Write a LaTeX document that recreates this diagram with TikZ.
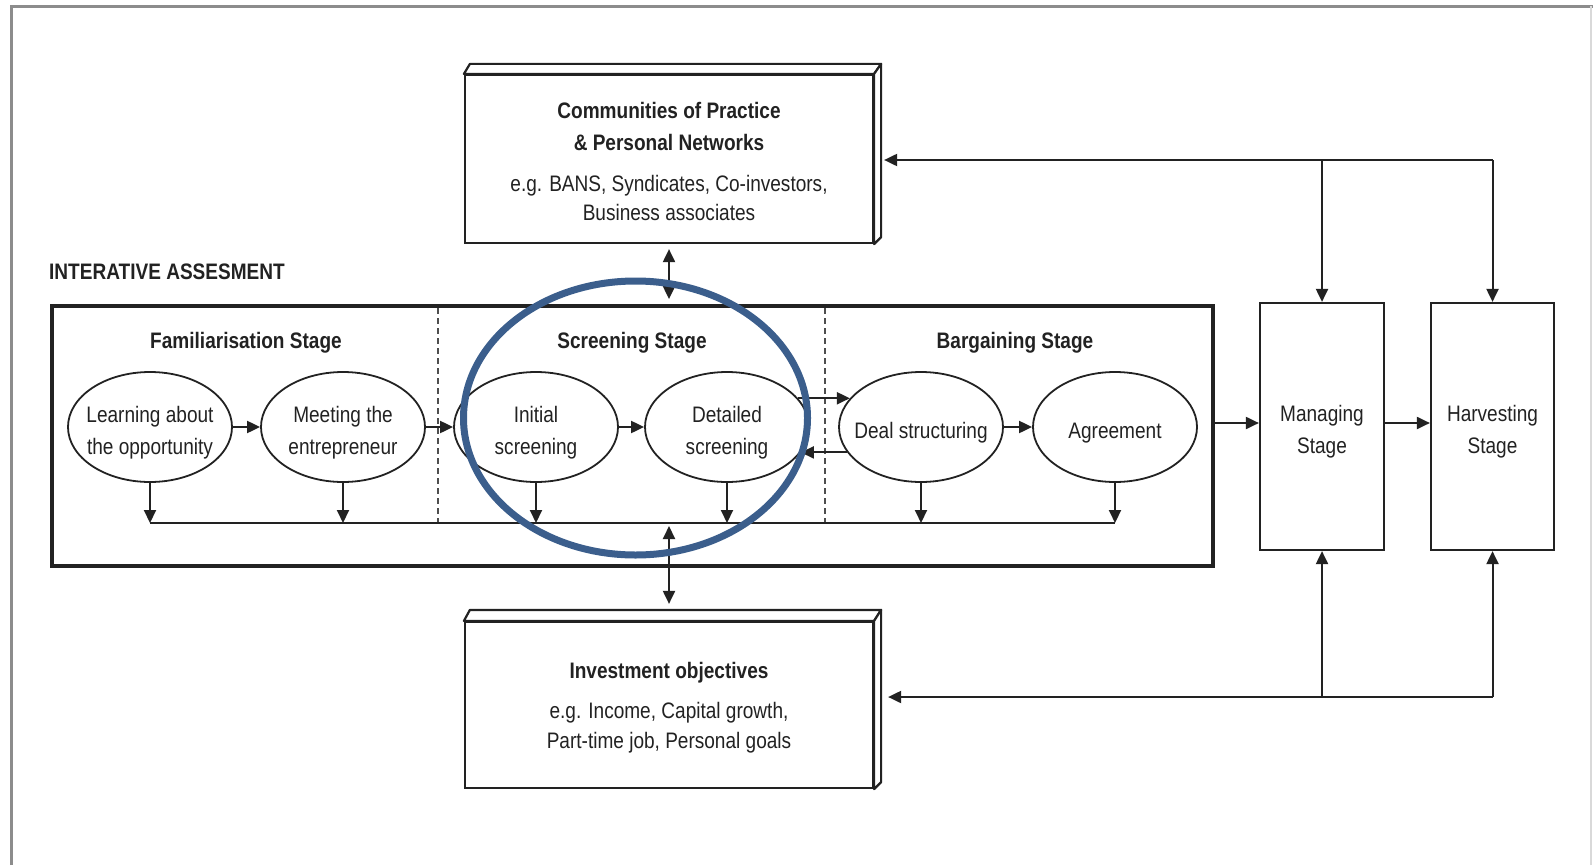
\documentclass[tikz,border=0pt]{standalone}
\usepackage{fontspec}
\setmainfont[FakeStretch=0.85]{Liberation Sans}
\usetikzlibrary{arrows.meta,shapes.geometric,calc}
\definecolor{ink}{HTML}{222222}
\definecolor{ringblue}{HTML}{3B5E8C}
\definecolor{framegray}{HTML}{8C8C8C}
\definecolor{edgegray}{HTML}{D9D9D9}
% taller first line, so the text block sits a little lower in its shape
\newcommand{\txtdrop}{\rule{0pt}{27bp}}
\newcommand{\boxdrop}{\rule{0pt}{21bp}}

\begin{document}
\begin{tikzpicture}[x=1bp,y=-1bp,
  every node/.style={font=\fontsize{22.4bp}{32bp}\selectfont, text=ink},
  title/.style={font=\fontsize{22.4bp}{32bp}\selectfont\bfseries, inner sep=0pt},
  stage/.style={draw=ink, line width=1.8bp, ellipse, minimum width=164bp,
    minimum height=110bp, inner xsep=-14bp, inner ysep=0pt, align=center},
  slab/.style={draw=ink, line width=2.2bp, fill=white, minimum width=408bp,
    inner sep=0pt, align=center},
  phase/.style={draw=ink, line width=2.2bp, minimum width=124bp,
    minimum height=247bp, inner sep=0pt, align=center},
  face/.style={draw=ink, line width=2.2bp, line join=round, fill=white},
  arr/.style={draw=ink, line width=2bp, -{Triangle[length=13bp,width=12bp]}},
  darr/.style={draw=ink, line width=2bp,
    {Triangle[length=13bp,width=12bp]}-{Triangle[length=13bp,width=12bp]}},
  divider/.style={draw=ink!80, line width=1.5bp, dash pattern=on 6bp off 4bp},
  ring/.style={draw=ringblue, line width=7bp}]

\useasboundingbox (0,0) rectangle (1593,865);

% page frame
\draw[framegray, line width=3bp] (11,865) -- (11,6.5) -- (1593,6.5);
\draw[edgegray, line width=2.5bp] (1591,6) -- (1591,865);

% outer assessment box
\node[draw=ink, line width=3.8bp, minimum width=1161bp, minimum height=260bp,
  inner sep=0pt] (ia) at (632.5,436) {};
\node[title, anchor=west] (ttl) at (49,272) {INTERATIVE ASSESMENT};

% stage separators
\draw[divider] (438,308) -- (438,523);
\draw[divider] (825,308) -- (825,523);

% stage titles
\node[title] (t1) at (246,343) {Familiarisation Stage};
\node[title] (t2) at (632,343) {Screening Stage};
\node[title] (t3) at (1015,343) {Bargaining Stage};

% activities
\node[stage] (e1) at (150,427) {\txtdrop Learning about\\the opportunity};
\node[stage] (e2) at (343,427) {\txtdrop Meeting the\\entrepreneur};
\node[stage] (e3) at (536,427) {\txtdrop Initial\\screening};
\node[stage] (e4) at (727,427) {\txtdrop Detailed\\screening};
\node[stage] (e5) at (921,427) {\txtdrop Deal structuring};
\node[stage] (e6) at (1115,427) {\txtdrop Agreement};

\draw[arr] (e1) -- (e2);
\draw[arr] (e2) -- (e3);
\draw[arr] (e3) -- (e4);
\draw[arr] (e4.22) -- (e5.158);
\draw[arr] (e5.-161) -- (e4.-19);
\draw[arr] (e5) -- (e6);

% feedback line
\coordinate (fb) at (0,523);
\foreach \e in {e1,e2,e3,e4,e5,e6}
  \draw[arr] (\e.south) -- (\e.south |- fb);
\draw[ink, line width=2bp] (e1.south |- fb) -- (e6.south |- fb);

% networks box
\node[slab, minimum height=168bp] (cop) at (669,159)
  {\boxdrop\textbf{Communities of Practice}\\\textbf{\& Personal Networks}\\[9bp]
   e.g. BANS, Syndicates, Co-investors,\\[-3bp]Business associates};
\draw[face] (cop.north west) -- ++(6,-10) -- ($(cop.north east)+(7,-10)$)
  -- (cop.north east) -- cycle;
\draw[face] (cop.north east) -- ($(cop.north east)+(7,-10)$)
  -- ($(cop.south east)+(7,-7)$) -- (cop.south east) -- cycle;

% objectives box
\node[slab, minimum height=166bp] (inv) at (669,705)
  {\boxdrop\textbf{Investment objectives}\\[8bp]
   e.g. Income, Capital growth,\\[-2bp]Part-time job, Personal goals};
\draw[face] (inv.north west) -- ++(6,-11) -- ($(inv.north east)+(7,-11)$)
  -- (inv.north east) -- cycle;
\draw[face] (inv.north east) -- ($(inv.north east)+(7,-11)$)
  -- ($(inv.south east)+(7,-7)$) -- (inv.south east) -- cycle;

% links to the assessment box
\draw[darr, shorten <=5bp, shorten >=5bp] (cop.south) -- (cop.south |- ia.north);
\coordinate (invTop) at ($(inv.north)+(0,-17)$);
\draw[darr, shorten <=3bp] (inv.north |- fb) -- (invTop);

% later stages
\node[phase] (mg) at (1322,426.5) {\txtdrop Managing\\Stage};
\node[phase, minimum width=123bp] (hv) at (1492.5,426.5) {\txtdrop Harvesting\\Stage};
\coordinate (ym) at (0,423);
\draw[arr] (ia.east |- ym) -- (mg.west |- ym);
\draw[arr] (mg.east |- ym) -- (hv.west |- ym);

% return paths
\coordinate (tr) at (0,160);
\coordinate (copR) at ($(cop.east)+(10,0)$);
\draw[arr] (hv.north |- tr) -- (copR |- tr);
\draw[arr] (mg.north |- tr) -- (mg.north);
\draw[arr] (hv.north |- tr) -- (hv.north);

\coordinate (br) at (0,697);
\coordinate (invR) at ($(inv.east)+(14,0)$);
\draw[arr] (hv.south |- br) -- (invR |- br);
\draw[arr] (mg.south |- br) -- (mg.south);
\draw[arr] (hv.south |- br) -- (hv.south);

% highlight of the screening stage
\draw[ring] (635.5,418) ellipse [x radius=172bp, y radius=137bp];
\end{tikzpicture}
\end{document}
